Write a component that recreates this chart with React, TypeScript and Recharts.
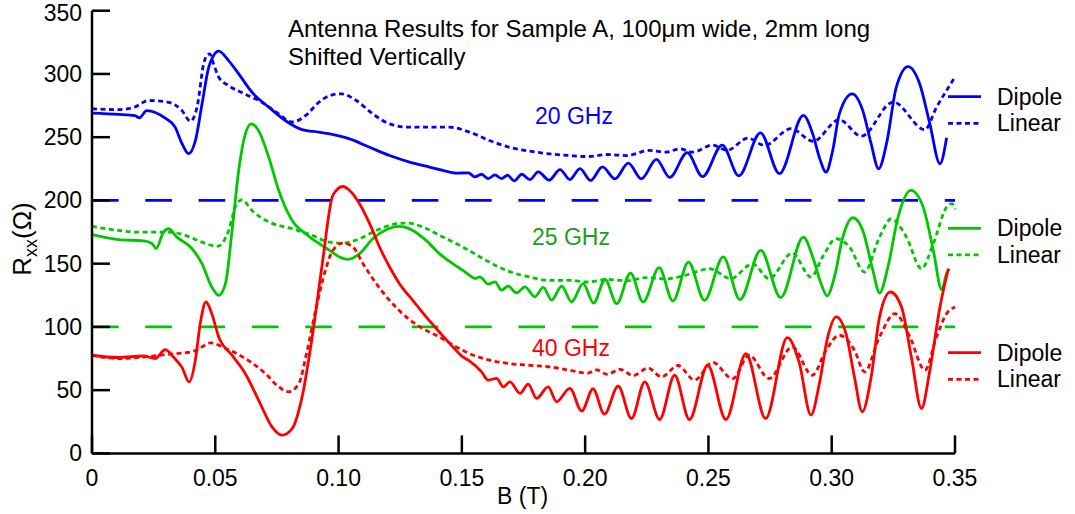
import { LineChart, Line, XAxis, YAxis, ReferenceLine } from 'recharts'

type Pt = [number, number]

// B (T), Rxx (Ohm) (curves already shifted vertically)
const dipole20: Pt[] = [
  [0, 269], [0.0107, 268], [0.0175, 267], [0.0192, 265.3], [0.0222, 271], [0.0297, 265], [0.0337, 258],
  [0.0365, 245], [0.0392, 237], [0.0419, 247], [0.0446, 276], [0.0473, 305], [0.0493, 314.5], [0.0514, 318],
  [0.0554, 310.5], [0.0595, 300], [0.0649, 285.5], [0.0717, 273.7], [0.0785, 263], [0.0852, 256], [0.092, 254],
  [0.0964, 252.6], [0.1045, 248.7], [0.1126, 242], [0.1207, 235.5], [0.1288, 230.3], [0.1369, 226.3],
  [0.1423, 223.7], [0.1477, 221.6], [0.1526, 221.8], [0.1553, 218.6], [0.158, 220.7], [0.1607, 217.3],
  [0.1634, 220.2], [0.1661, 217.3], [0.1686, 219.9], [0.1712, 215.5], [0.1743, 220.7], [0.1776, 216.5],
  [0.181, 222.6], [0.1854, 216], [0.1898, 224.4], [0.1938, 216.5], [0.1979, 225.2], [0.2022, 215.8],
  [0.207, 226.5], [0.2121, 217.1], [0.2175, 229.5], [0.2228, 217.1], [0.2289, 232.4], [0.2343, 218.2],
  [0.2414, 237.8], [0.2476, 218.8], [0.2556, 243.8], [0.2623, 219.5], [0.2711, 253.4], [0.2788, 221.2],
  [0.2885, 267.2], [0.2923, 252.6], [0.295, 234], [0.2977, 222.4], [0.3004, 239.5], [0.3031, 268.4],
  [0.3083, 284.2], [0.3126, 271], [0.316, 244.7], [0.319, 225], [0.3222, 244.7], [0.3262, 289.5],
  [0.331, 305.8], [0.3357, 292], [0.3398, 260.5], [0.3439, 229], [0.3466, 249.5],
]

const linear20: Pt[] = [
  [0, 272.4], [0.0107, 271.8], [0.0175, 274], [0.0229, 279], [0.031, 277.6], [0.0365, 271], [0.0399, 262.6],
  [0.0426, 273.7], [0.0453, 308], [0.0467, 315], [0.0477, 315.8], [0.0493, 308], [0.0514, 297.4],
  [0.0554, 290.8], [0.0622, 284], [0.0689, 277.6], [0.0757, 268.4], [0.0812, 262], [0.0866, 267],
  [0.092, 277.6], [0.0964, 282.9], [0.101, 284.3], [0.1072, 279], [0.1139, 268.4], [0.1207, 260.5],
  [0.1288, 257.9], [0.1369, 257.9], [0.145, 257.9], [0.1531, 254], [0.1612, 247.4], [0.1693, 242],
  [0.1774, 239], [0.1855, 236.8], [0.1936, 235.5], [0.2011, 234.7], [0.2087, 236.3], [0.2168, 235.5],
  [0.2262, 239.5], [0.2329, 238.2], [0.2383, 240.8], [0.2437, 238.2], [0.2517, 243.8], [0.2575, 239.6],
  [0.266, 249.2], [0.2727, 243.5], [0.2835, 256.7], [0.2925, 246.8], [0.303, 263.8], [0.312, 250.8],
  [0.3249, 277.8], [0.3378, 256], [0.3425, 273.7], [0.3466, 287], [0.35, 297.5],
]

const dipole25: Pt[] = [
  [0, 172.9], [0.0107, 169], [0.0209, 168], [0.0243, 166], [0.026, 162], [0.029, 175], [0.031, 177.6],
  [0.0344, 171], [0.0405, 162], [0.0446, 150], [0.0486, 131.5], [0.0514, 125], [0.0541, 134], [0.0568, 176],
  [0.0595, 223.7], [0.0622, 252.6], [0.0646, 260.5], [0.0676, 255], [0.0717, 234], [0.0757, 208],
  [0.0812, 184], [0.0866, 173.7], [0.092, 166], [0.0964, 160.5], [0.1004, 155.3], [0.1038, 153.4],
  [0.1085, 157.9], [0.1139, 169.7], [0.1193, 176.8], [0.1247, 179.5], [0.1301, 176.3], [0.1355, 168.4],
  [0.1409, 157.9], [0.1463, 150], [0.1504, 144.7], [0.153, 141], [0.1553, 138.3], [0.1573, 139.6],
  [0.1607, 133.8], [0.1634, 135.6], [0.1661, 129.1], [0.1688, 132.2], [0.1722, 126.9], [0.1756, 131.7],
  [0.1796, 123.8], [0.183, 131.2], [0.1864, 121.2], [0.1905, 132.2], [0.1945, 119.8], [0.1992, 134.3],
  [0.2034, 118.8], [0.2081, 137.5], [0.2128, 118.4], [0.2184, 142.6], [0.2235, 119.7], [0.23, 146.8],
  [0.2356, 120.5], [0.2419, 151.3], [0.2484, 121], [0.256, 155.3], [0.2628, 121.6], [0.2712, 160.5],
  [0.2793, 123.2], [0.2885, 171], [0.2923, 155.3], [0.2957, 134.2], [0.2981, 124.6], [0.3011, 139.5],
  [0.3045, 171], [0.3086, 186.3], [0.3126, 176.3], [0.3167, 144.7], [0.3194, 126.8], [0.3228, 147.4],
  [0.3269, 186.8], [0.3321, 207.9], [0.3371, 194.7], [0.3412, 160.5], [0.3446, 129.5], [0.3466, 142.1],
  [0.3477, 146],
]

const linear25: Pt[] = [
  [0, 179.5], [0.0107, 176.3], [0.0175, 175], [0.031, 175], [0.0378, 172.4], [0.0446, 167], [0.0507, 163.7],
  [0.0554, 176], [0.0581, 194.7], [0.0608, 200.5], [0.0649, 192], [0.0717, 183], [0.0812, 177.6],
  [0.0893, 172.4], [0.0964, 167], [0.1018, 166.3], [0.1085, 169.7], [0.1153, 176.3], [0.122, 181],
  [0.1274, 182.1], [0.1342, 179], [0.1409, 172.4], [0.1504, 163.2], [0.1598, 152.6], [0.168, 144.7],
  [0.1774, 139.5], [0.1855, 136.8], [0.1936, 136.8], [0.2011, 135.5], [0.2087, 137.5], [0.2168, 136.5],
  [0.2248, 139], [0.2329, 138], [0.241, 141], [0.2504, 146], [0.2591, 138.2], [0.2679, 150], [0.2746, 138.2],
  [0.284, 158.4], [0.2916, 139.5], [0.2963, 155.3], [0.3018, 169.7], [0.3072, 163.2], [0.3133, 143.4],
  [0.3194, 171], [0.3242, 185.5], [0.3303, 171], [0.3364, 146], [0.3412, 165.8], [0.3466, 194.7],
  [0.3488, 197.5], [0.35, 193],
]

const dipole40: Pt[] = [
  [0, 77.6], [0.0107, 75.8], [0.0209, 77], [0.0256, 75], [0.0297, 82], [0.0331, 76], [0.0365, 68],
  [0.0394, 56.5], [0.0419, 73.4], [0.0439, 102.6], [0.0462, 119.7], [0.0486, 110.5], [0.0514, 92],
  [0.0568, 77.6], [0.0622, 63], [0.0676, 42], [0.073, 21], [0.0771, 14.4], [0.0812, 19.7], [0.0852, 44.7],
  [0.0893, 92], [0.0934, 150], [0.0974, 202.6], [0.0991, 207.9], [0.1018, 211], [0.1045, 207.9],
  [0.1085, 197.4], [0.1126, 181.6], [0.1166, 163.2], [0.1207, 147.4], [0.1247, 134.2], [0.1301, 121],
  [0.1355, 107.9], [0.1409, 96], [0.1463, 84.2], [0.1504, 76.3], [0.1526, 73.7], [0.158, 64.5],
  [0.1607, 57.9], [0.1641, 59.3], [0.1668, 52.6], [0.1695, 56.6], [0.1736, 47.4], [0.1769, 54.8],
  [0.1803, 43.5], [0.185, 52.6], [0.1884, 40.8], [0.1938, 51.4], [0.1986, 33.5], [0.2032, 51], [0.2078, 31],
  [0.2134, 53.2], [0.2188, 27.6], [0.2242, 56.6], [0.2302, 26.8], [0.2363, 61.8], [0.2423, 26.8],
  [0.2497, 69.7], [0.2571, 26.8], [0.2652, 78.9], [0.2732, 27.6], [0.282, 91.6], [0.2868, 72],
  [0.2916, 30.3], [0.295, 55.3], [0.2984, 92.1], [0.3018, 107.9], [0.3058, 94.7], [0.3092, 60.5],
  [0.3124, 32.9], [0.316, 60.5], [0.3194, 107.9], [0.3238, 127.6], [0.3283, 115.8], [0.3323, 76.3],
  [0.3364, 35.5], [0.3398, 65.8], [0.3439, 115.8], [0.3473, 146],
]

const linear40: Pt[] = [
  [0, 77.6], [0.0107, 75], [0.0215, 76.3], [0.031, 78.4], [0.0405, 80.3], [0.0446, 84.2], [0.048, 87.4],
  [0.0541, 83], [0.0622, 75], [0.0703, 63.2], [0.0757, 52.6], [0.0798, 48.7], [0.0839, 55.3], [0.0873, 81.6],
  [0.0907, 113], [0.0947, 145], [0.0975, 160], [0.1018, 166.3], [0.1058, 163.2], [0.1099, 150],
  [0.1153, 134.2], [0.1207, 121], [0.1274, 107.9], [0.1342, 98.7], [0.1409, 92.1], [0.1477, 84.2],
  [0.1531, 78.9], [0.1612, 73.7], [0.1693, 71], [0.1774, 69.7], [0.1855, 68.4], [0.1936, 65.8],
  [0.2011, 63.5], [0.2045, 66], [0.209, 62.5], [0.2141, 66.5], [0.2195, 61.5], [0.2255, 67.5], [0.231, 60.5],
  [0.2376, 69.5], [0.2444, 58], [0.2517, 72], [0.2598, 59], [0.2665, 77.6], [0.2746, 59.2], [0.284, 84.2],
  [0.2921, 61.8], [0.2977, 81.6], [0.3031, 93.4], [0.3092, 81.6], [0.3133, 64.5], [0.3194, 92.1],
  [0.3256, 110.5], [0.3317, 92.1], [0.3378, 65.8], [0.3425, 92.1], [0.3466, 110.5], [0.35, 115.8],
]

const xTicks = [0, 0.05, 0.1, 0.15, 0.2, 0.25, 0.3, 0.35]
const yTicks = [0, 50, 100, 150, 200, 250, 300, 350]
const offsetLines = [200, 100]
const freqLabels = ['20 GHz', '25 GHz', '40 GHz']
const antennaNames = ['Dipole', 'Linear']
const titleLines = ['Antenna Results for Sample A, 100\u03bcm wide, 2mm long', 'Shifted Vertically']

const BLUE = '#0000ff'
const GREEN = '#00c800'
const RED = '#ff0000'
const FONT = '"Liberation Sans", Arial, Helvetica, sans-serif'
const DOTS = '5 3.5'
const LW = 2.8

const toPts = (a: Pt[]) => a.map(([b, r]) => ({ b, r }))

const series = [
  { key: 'd20', data: dipole20, color: BLUE, dotted: false },
  { key: 'l20', data: linear20, color: BLUE, dotted: true },
  { key: 'd25', data: dipole25, color: GREEN, dotted: false },
  { key: 'l25', data: linear25, color: GREEN, dotted: true },
  { key: 'd40', data: dipole40, color: RED, dotted: false },
  { key: 'l40', data: linear40, color: RED, dotted: true },
]

const W = 1075
const H = 514

function YTick(props: any) {
  const { x, y, payload } = props
  // keep the top label inside the page
  const ty = Math.max(y + 8, 21)
  return (
    <g>
      <line x1={x} x2={x + 18} y1={y} y2={y} stroke="#000" strokeWidth={2.5} />
      <text x={x - 10} y={ty} textAnchor="end" fontFamily={FONT} fontSize={23} fill="#000">
        {payload.value}
      </text>
    </g>
  )
}

function XTick(props: any) {
  const { x, y, payload } = props
  const v = payload.value as number
  return (
    <g>
      <line x1={x} x2={x} y1={y} y2={y - 18} stroke="#000" strokeWidth={2.5} />
      <text x={x} y={y + 33} textAnchor="middle" fontFamily={FONT} fontSize={23} fill="#000">
        {v === 0 ? '0' : v.toFixed(2)}
      </text>
    </g>
  )
}

function Overlay() {
  const colors = [BLUE, GREEN, RED]
  const labelColors = [BLUE, '#1e9e1e', RED]
  const labelPos = [
    { x: 535, y: 124 },
    { x: 532, y: 245 },
    { x: 532, y: 356 },
  ]
  const legendY = [96.7, 228.3, 352.7]
  return (
    <svg width={W} height={H} style={{ position: 'absolute', left: 0, top: 0, pointerEvents: 'none' }}>
      {titleLines.map((t, i) => (
        <text key={t} x={288} y={37 + i * 27.5} fontFamily={FONT} fontSize={24} fill="#000">
          {t}
        </text>
      ))}
      {freqLabels.map((t, i) => (
        <text key={t} x={labelPos[i].x} y={labelPos[i].y} fontFamily={FONT} fontSize={23} fill={labelColors[i]}>
          {t}
        </text>
      ))}
      {colors.map((c, i) =>
        antennaNames.map((name, j) => {
          const ly = legendY[i] + j * 26.6
          return (
            <g key={`${i}-${name}`}>
              <line
                x1={948}
                x2={981}
                y1={ly}
                y2={ly}
                stroke={c}
                strokeWidth={LW}
                strokeDasharray={j === 1 ? DOTS : undefined}
              />
              <text x={997} y={ly + 8} fontFamily={FONT} fontSize={23} fill="#000">
                {name}
              </text>
            </g>
          )
        }),
      )}
      <text x={497} y={504} fontFamily={FONT} fontSize={23} fill="#000">
        B (T)
      </text>
      <text transform="translate(31 239) rotate(-90)" textAnchor="middle" fontFamily={FONT} fontSize={26} fill="#000">
        R<tspan dy={6} fontSize={18}>xx</tspan>
        <tspan dy={-6}>(Ω)</tspan>
      </text>
    </svg>
  )
}

export default function App() {
  return (
    <div style={{ position: 'absolute', left: 0, top: 0, width: W, height: H, background: '#fff' }}>
      <LineChart width={W} height={H} margin={{ top: 10.7, right: 120, bottom: 0, left: 0 }}>
        <XAxis
          type="number"
          dataKey="b"
          domain={[0, 0.35]}
          ticks={xTicks}
          interval={0}
          height={60.6}
          tickSize={0}
          tickMargin={0}
          tickLine={false}
          axisLine={{ stroke: '#000', strokeWidth: 2.5 }}
          tick={(p: any) => <XTick {...p} />}
        />
        <YAxis
          type="number"
          dataKey="r"
          domain={[0, 350]}
          ticks={yTicks}
          interval={0}
          width={92}
          tickSize={0}
          tickMargin={0}
          tickLine={false}
          axisLine={{ stroke: '#000', strokeWidth: 2.5 }}
          tick={(p: any) => <YTick {...p} />}
        />
        {offsetLines.map((lvl, i) => (
          <ReferenceLine
            key={lvl}
            y={lvl}
            stroke={i === 0 ? BLUE : GREEN}
            strokeWidth={2.7}
            strokeDasharray="26.6 26.7"
          />
        ))}
        {series.map((s) => (
          <Line
            key={s.key}
            data={toPts(s.data)}
            dataKey="r"
            type="monotone"
            stroke={s.color}
            strokeWidth={LW}
            strokeDasharray={s.dotted ? DOTS : undefined}
            dot={false}
            activeDot={false}
            isAnimationActive={false}
          />
        ))}
      </LineChart>
      <Overlay />
    </div>
  )
}
